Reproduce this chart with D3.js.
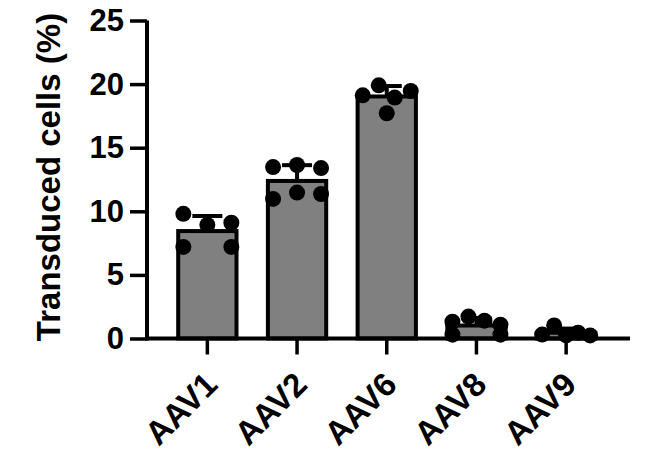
<!DOCTYPE html>
<html>
<head>
<meta charset="utf-8">
<script src="https://cdn.jsdelivr.net/npm/d3@7"></script>
<style>
  html, body { margin: 0; padding: 0; background: #fff; }
  svg text { font-family: "Liberation Sans", Arial, sans-serif; font-weight: bold; fill: #000; }
</style>
</head>
<body>
<svg id="chart" width="647" height="457"></svg>
<script>
// Serotypes on the x axis
const categories = ["AAV1", "AAV2", "AAV6", "AAV8", "AAV9"];
// Individual replicate measurements (% transduced cells), one array per serotype
const aav1 = [9.8, 8.93, 9.1, 7.2, 7.2];
const aav2 = [13.48, 13.64, 13.4, 10.97, 11.47, 11.36];
const aav6 = [19.12, 19.9, 18.94, 19.46, 17.71];
const aav8 = [1.32, 1.72, 1.4, 1.08, 0.3, 0.3];
const aav9 = [0.31, 1.02, 0.24, 0.45, 0.24];
const replicates = [aav1, aav2, aav6, aav8, aav9];
// Y axis ticks
const yTicks = [0, 5, 10, 15, 20, 25];
const yTitle = "Transduced cells (%)";

const svg = d3.select("#chart");
const axisLeftX = 147, axisRightX = 630;

const y = d3.scaleLinear().domain([0, 25]).range([338.5, 20.5]);
const x = d3.scaleBand().domain(categories).range([162.5, 611]).padding(0);
const barW = x.bandwidth() * 0.65;
const r = 8;
const spread = 24;

// summary stats per group
const stats = categories.map((c, i) => {
  const v = replicates[i];
  return { cat: c, values: v, mean: d3.mean(v), sd: d3.deviation(v) };
});

// bars
svg.append("g").selectAll("rect").data(stats).join("rect")
  .attr("x", d => x(d.cat) + x.bandwidth() / 2 - barW / 2)
  .attr("y", d => y(d.mean))
  .attr("width", barW)
  .attr("height", d => y(0) - y(d.mean))
  .attr("fill", "#808080")
  .attr("stroke", "#000")
  .attr("stroke-width", 4);

// upper SD error bars
const eb = svg.append("g").attr("stroke", "#000").attr("stroke-width", 4);
stats.forEach(d => {
  const cx = x(d.cat) + x.bandwidth() / 2;
  eb.append("line").attr("x1", cx).attr("x2", cx).attr("y1", y(d.mean)).attr("y2", y(d.mean + d.sd));
  eb.append("line").attr("x1", cx - 15).attr("x2", cx + 15).attr("y1", y(d.mean + d.sd)).attr("y2", y(d.mean + d.sd));
});

// scatter: points falling within one diameter of a row's top point share a row,
// and each row is spread evenly across the bar
const pts = [];
stats.forEach(d => {
  const cx = x(d.cat) + x.bandwidth() / 2;
  const idx = d.values.map((v, i) => i).sort((a, b) => d.values[b] - d.values[a]);
  const rows = [];
  idx.forEach(i => {
    const py = y(d.values[i]);
    const row = rows.find(rw => Math.abs(rw.top - py) < 2 * r);
    if (row) row.items.push(i); else rows.push({ top: py, items: [i] });
  });
  rows.forEach(rw => {
    rw.items.sort((a, b) => a - b);
    const n = rw.items.length;
    rw.items.forEach((i, k) => {
      const off = n === 1 ? 0 : -spread + (2 * spread) * k / (n - 1);
      pts.push({ cx: cx + off, v: d.values[i] });
    });
  });
});
svg.append("g").selectAll("circle").data(pts).join("circle")
  .attr("cx", d => d.cx).attr("cy", d => y(d.v)).attr("r", r).attr("fill", "#000");

// y axis
const yAxis = svg.append("g").attr("transform", `translate(${axisLeftX},0)`)
  .call(d3.axisLeft(y).tickValues(yTicks).tickSize(17).tickPadding(6).tickSizeOuter(0));
yAxis.select(".domain").attr("stroke-width", 4).attr("d", `M0,${y(25)}V${y(0) + 2}`);
yAxis.selectAll(".tick line").attr("stroke-width", 3.5);
yAxis.selectAll(".tick text").attr("font-size", 31).attr("font-family", "Liberation Sans, Arial, sans-serif").attr("font-weight", "bold");

// x axis
const xAxis = svg.append("g").attr("transform", `translate(0,${y(0)})`)
  .call(d3.axisBottom(x).tickSize(16).tickSizeOuter(0));
xAxis.select(".domain").attr("stroke-width", 4).attr("d", `M${axisLeftX - 2},0H${axisRightX}`);
xAxis.selectAll(".tick line").attr("stroke-width", 3.5);
xAxis.selectAll(".tick text")
  .attr("font-size", 33).attr("font-family", "Liberation Sans, Arial, sans-serif").attr("font-weight", "bold")
  .attr("text-anchor", "end")
  .attr("dy", null).attr("y", 0)
  .attr("transform", "translate(12,48) rotate(-45)");

// y axis title
svg.append("text")
  .attr("transform", `translate(60,177) rotate(-90)`)
  .attr("text-anchor", "middle")
  .attr("font-size", 33)
  .text(yTitle);
</script>
</body>
</html>
